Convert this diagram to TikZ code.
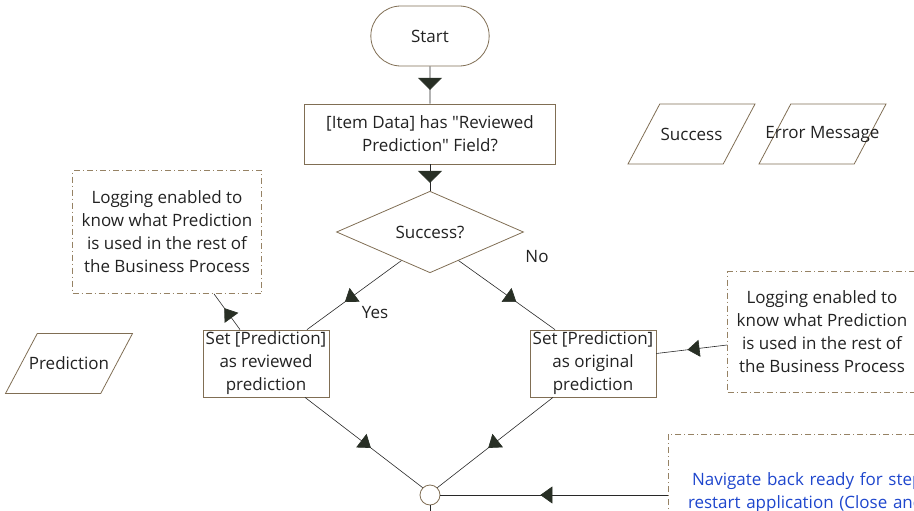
\documentclass[tikz,border=0pt]{standalone}
\usepackage{fontspec}
\setmainfont{Open Sans}[Ligatures=TeXOff]
\usetikzlibrary{arrows.meta,calc,shapes.misc,shapes.geometric,decorations.markings}
\definecolor{ink}{RGB}{34,34,34}
\definecolor{edge}{RGB}{128,110,84}
\definecolor{wire}{RGB}{40,40,40}
\definecolor{head}{RGB}{40,47,37}
\definecolor{hint}{RGB}{150,130,100}
\definecolor{link}{RGB}{30,70,205}
\tikzset{
  every picture/.style={color=ink, font=\fontsize{17}{23}\selectfont},
  outline/.style={draw=edge, line width=0.8pt},
  stepbox/.style={outline, rectangle, minimum width=126pt, minimum height=61pt, align=center, inner sep=2pt},
  termbox/.style={outline, rounded rectangle, minimum width=125pt, minimum height=60pt},
  decbox/.style={outline, diamond, minimum width=187pt, minimum height=64pt, inner sep=0pt},
  iobox/.style={outline, trapezium, trapezium left angle=63.4, trapezium right angle=116.6,
    trapezium stretches=true, minimum width=127pt, minimum height=60pt, inner sep=2pt},
  joinbox/.style={outline, circle, minimum size=20pt, inner sep=0pt},
  notebox/.style={draw=hint, line width=0.8pt, dash pattern=on 6pt off 3pt on 1pt off 3pt, align=center, inner sep=0pt},
  tag/.style={inner sep=1pt},
  flow/.style={draw=wire, line width=0.6pt},
  midtip/.style={postaction={decorate, decoration={markings,
    mark=at position #1 with {\arrow{Triangle[length=12pt,width=17pt,color=head]}}}}},
  widetip/.style={postaction={decorate, decoration={markings,
    mark=at position #1 with {\arrow{Triangle[length=12pt,width=24pt,color=head]}}}}},
}
\begin{document}
\begin{tikzpicture}[x=1pt, y=-1pt]
  \useasboundingbox (0,0) rectangle (914,511);
  \clip (0,0) rectangle (914,511);
  % main flow
  \node[termbox] (start) at (430,36) {Start};
  \node[stepbox, minimum width=251pt, minimum height=60pt] (item) at (430,134) {[Item Data] has "Reviewed\\Prediction" Field?};
  \node[decbox] (dec) at (430,232) {Success?};
  \node[stepbox] (setrev) at (266,363.5) {Set [Prediction]\\as reviewed\\prediction};
  \node[stepbox] (setorig) at (593,363.5) {Set [Prediction]\\as original\\prediction};
  \node[joinbox] (merge) at (430,495) {};
  \coordinate (out) at (430,530);
  % data items
  \node[iobox, label=center:Success] (ok) at (691.5,134) {};
  \node[iobox, label=center:Error Message] (err) at (822.5,134) {};
  \node[iobox, label=center:Prediction] (pred) at (69,363.5) {};
  % notes
  \node[notebox, minimum width=189pt, minimum height=123pt] (noteL) at (167,232) {Logging enabled to\\know what Prediction\\is used in the rest of\\the Business Process};
  \node[notebox, minimum width=189pt, minimum height=121pt] (noteR) at (822,332) {Logging enabled to\\know what Prediction\\is used in the rest of\\the Business Process};
  \node[notebox, text=link, text width=330pt, align=left, inner sep=20pt, minimum height=118pt] (nav) at (853,493) {\hspace*{4pt}Navigate back ready for step\\restart application (Close and};
  \node[tag] (yes) at (375,313) {Yes};
  \node[tag] (no) at (537,257) {No};
  % connectors
  \draw[flow, widetip=0.63] (start) -- (item);
  \draw[flow, widetip=0.7] (item) -- (dec);
  \draw[flow, midtip=0.6] (dec.-135) -- ([xshift=41pt]setrev.north);
  \draw[flow, midtip=0.6] (dec.-45) -- ([xshift=-38pt]setorig.north);
  \draw[flow, midtip=0.56] ([xshift=39pt]setrev.south) -- (merge.135);
  \draw[flow, midtip=0.56] ([xshift=-40pt]setorig.south) -- (merge.45);
  \draw[flow, midtip=0.56] (nav.west |- merge.east) -- (merge.east);
  \draw[flow] (merge.south) -- (out);
  \draw[flow, midtip=0.6] ([xshift=-26pt]setrev.north) -- ([xshift=47pt]noteL.south);
  \draw[flow, midtip=0.56] ([yshift=-13pt]noteR.west) -- ([yshift=10pt]setorig.east);
\end{tikzpicture}
\end{document}
